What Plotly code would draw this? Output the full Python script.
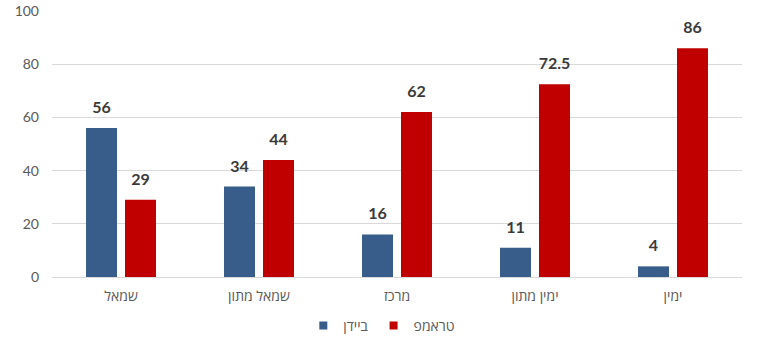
import plotly.graph_objects as go

categories = ["שמאל", "שמאל מתון", "מרכז", "ימין מתון", "ימין"]
biden = [56, 34, 16, 11, 4]
trump = [29, 44, 62, 72.5, 86]
y_ticks = [0, 20, 40, 60, 80, 100]

font_family = "Lato, 'Open Sans', 'DejaVu Sans', sans-serif"
series = [("ביידן", biden, "#385D8A"), ("טראמפ", trump, "#C00000")]
bar_gap = 0.435

fig = go.Figure()
for name, values, color in series:
    fig.add_trace(go.Bar(
        name=name, x=categories, y=values, offsetgroup=name,
        marker=dict(color=color, line=dict(width=0)), showlegend=False,
    ))
# value labels: invisible markers lift the text a little above each bar
for name, values, color in series:
    fig.add_trace(go.Scatter(
        x=categories, y=values, offsetgroup=name, mode="markers+text",
        marker=dict(size=16, opacity=0, color=color),
        text=[f"{v:g}" for v in values], textposition="top center",
        textfont=dict(size=16, color="#3a3a3a", family=font_family, weight="bold"),
        showlegend=False, hoverinfo="skip", cliponaxis=False,
    ))
# legend entries with small square swatches
for name, values, color in series:
    fig.add_trace(go.Scatter(
        x=[None], y=[None], name=name, mode="markers",
        marker=dict(symbol="square", size=8, color=color),
    ))

fig.update_layout(
    width=758, height=342,
    margin=dict(l=52, r=16, t=11, b=65, autoexpand=False),
    paper_bgcolor="white", plot_bgcolor="white",
    barmode="group", bargap=bar_gap, bargroupgap=0.205,
    scattermode="group", scattergap=bar_gap,
    font=dict(family=font_family, size=14, color="#595959"),
    showlegend=True,
    legend=dict(orientation="h", x=0.478, xanchor="center", yref="container",
                y=0.047, yanchor="middle", font=dict(size=14, color="#595959"),
                itemwidth=30),
)
fig.update_yaxes(range=[0, 100], tickvals=y_ticks, showgrid=True, gridcolor="#d9d9d9",
                 gridwidth=1, zeroline=False, showline=False, ticks="", ticklabelstandoff=12,
                 tickfont=dict(size=14, color="#595959"), automargin=False)
fig.update_xaxes(showline=True, linecolor="#d9d9d9", linewidth=1, ticks="",
                 ticklabelstandoff=6, tickfont=dict(size=14, color="#595959"), automargin=False)

fig.write_html("out.html")
